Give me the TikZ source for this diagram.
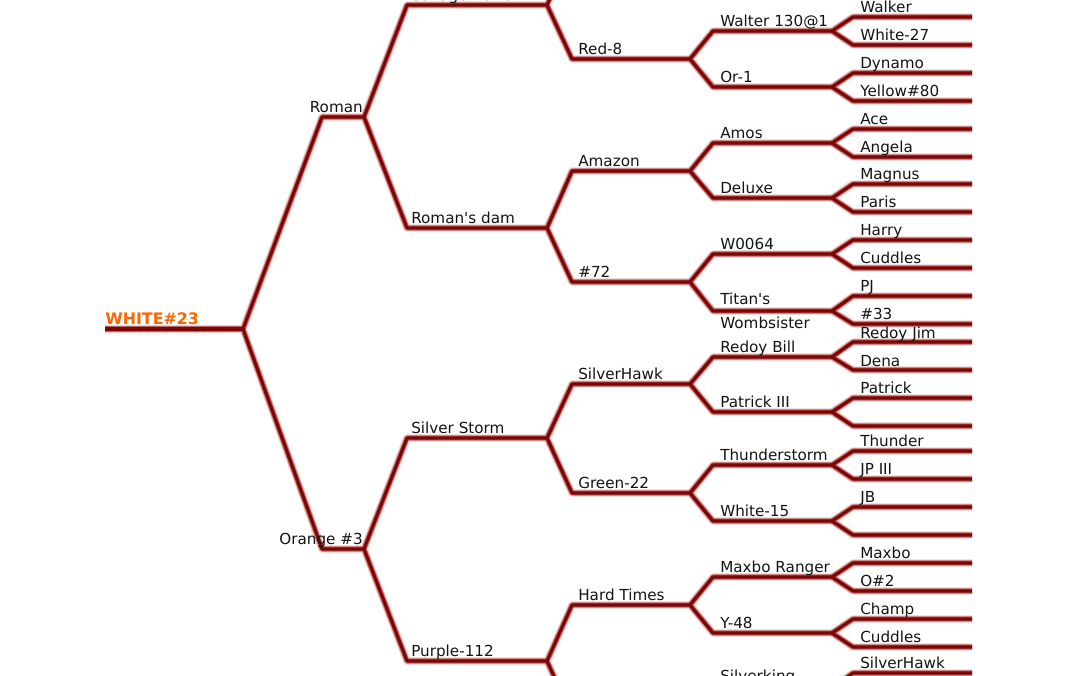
\documentclass[tikz,border=0pt]{standalone}
\usepackage{fontspec}
\setmainfont{DejaVu Sans}
\definecolor{core}{RGB}{122,6,6}
\definecolor{glowA}{RGB}{238,205,205}
\definecolor{glowB}{RGB}{190,100,100}
\definecolor{rootc}{RGB}{255,102,0}
\definecolor{txt}{RGB}{20,20,20}
\newcommand\alledges[1]{%
  \draw[#1] (W-s) -- (W-e);
  \foreach \p/\c in {W/Roman, W/Orange,
      Roman/Savage, Roman/RDam, Orange/SStorm, Orange/Purple,
      Savage/Xsav, Savage/Red8, RDam/Amazon, RDam/N72,
      SStorm/SHawk, SStorm/Green22, Purple/HardT, Purple/Xbot,
      Red8/Walter, Red8/Or1, Amazon/Amos, Amazon/Deluxe,
      N72/W0064, N72/Titan, SHawk/RBill, SHawk/PatIII,
      Green22/Thstorm, Green22/White15, HardT/MaxboR, HardT/Y48,
      Xbot/Silverking,
      Walter/Walker, Walter/White27, Or1/Dynamo, Or1/Yellow80,
      Amos/Ace, Amos/Angela, Deluxe/Magnus, Deluxe/Paris,
      W0064/Harry, W0064/Cuddles, Titan/PJ, Titan/N33,
      RBill/RJim, RBill/Dena, PatIII/Patrick, PatIII/PatD,
      Thstorm/Thunder, Thstorm/JPIII, White15/JB, White15/WfD,
      MaxboR/Maxbo, MaxboR/O2, Y48/Champ, Y48/CuddlesB,
      Silverking/SHawkB, Silverking/SkD}
    {\draw[#1] (\p-e) -- (\c-s) -- (\c-e);}%
}
\begin{document}
\begin{tikzpicture}[x=0.75pt,y=-0.75pt,
  glowa/.style={draw=glowA,line width=5.6pt,line join=round},
  glowb/.style={draw=glowB,line width=3.8pt,line join=round},
  corel/.style={draw=core,line width=2.3pt,line join=round},
  lbl/.style={font=\fontsize{11.4}{13}\selectfont,text=txt,inner sep=0pt,anchor=base west},
  lble/.style={lbl,anchor=base east},
  rootlbl/.style={font=\bfseries\fontsize{11.9}{13}\selectfont,text=rootc,inner sep=0pt,anchor=base west}]
\useasboundingbox (0,0) rectangle (1080,675);
\fill[white] (0,0) rectangle (1080,675);
\clip (0,0) rectangle (1080,675);
% generation 0
\coordinate (W-s) at (105,329); \coordinate (W-e) at (243,329);
% generation 1
\foreach \n/\y in {Roman/117, Orange/549}
  {\coordinate (\n-s) at (322,\y); \coordinate (\n-e) at (364,\y);}
% generation 2
\foreach \n/\y in {Savage/5, RDam/228, SStorm/438, Purple/661}
  {\coordinate (\n-s) at (407,\y); \coordinate (\n-e) at (547,\y);}
% generation 3
\foreach \n/\y in {Xsav/-50, Red8/59, Amazon/171, N72/282, SHawk/384, Green22/493, HardT/605, Xbot/716}
  {\coordinate (\n-s) at (572,\y); \coordinate (\n-e) at (690,\y);}
% generation 4
\foreach \n/\y in {Walter/31, Or1/87, Amos/143, Deluxe/198, W0064/254, Titan/311,
                   RBill/357, PatIII/412, Thstorm/465, White15/521, MaxboR/577, Y48/633, Silverking/688}
  {\coordinate (\n-s) at (713,\y); \coordinate (\n-e) at (832,\y);}
% generation 5
\foreach \n/\y in {Walker/17, White27/45, Dynamo/73, Yellow80/101, Ace/129, Angela/157,
                   Magnus/184, Paris/212, Harry/240, Cuddles/268, PJ/296, N33/324,
                   RJim/342, Dena/370, Patrick/398, PatD/426, Thunder/451, JPIII/479,
                   JB/507, WfD/535, Maxbo/563, O2/591, Champ/619, CuddlesB/647,
                   SHawkB/673, SkD/701}
  {\coordinate (\n-s) at (853,\y); \coordinate (\n-e) at (972,\y);}
% connectors: glow layers, then core
\alledges{glowa}
\alledges{glowb}
\alledges{corel}
% labels
\node[rootlbl] (lW) at (105,324) {WHITE\#23};
\node[lble] (lRoman) at (363,112) {Roman};
\node[lble] (lOrange) at (363,544) {Orange \#3};
\foreach \n/\y/\t in {Savage/0/{Savage Nation}, RDam/223/{Roman\textquotesingle s dam},
                      SStorm/433/{Silver Storm}, Purple/656/{Purple-112}}
  {\node[lbl] (l\n) at (411,\y) {\t};}
\foreach \n/\y/\t in {Red8/54/{Red-8}, Amazon/166/{Amazon}, N72/277/{\#72},
                      SHawk/379/{SilverHawk}, Green22/488/{Green-22}, HardT/600/{Hard Times}}
  {\node[lbl] (l\n) at (578,\y) {\t};}
\foreach \n/\y/\t in {Walter/26/{Walter 130@1}, Or1/82/{Or-1}, Amos/138/{Amos}, Deluxe/193/{Deluxe},
                      W0064/249/{W0064}, RBill/352/{Redoy Bill}, PatIII/407/{Patrick III},
                      Thstorm/460/{Thunderstorm}, White15/516/{White-15}, MaxboR/572/{Maxbo Ranger},
                      Y48/628/{Y-48}, Silverking/681/{Silverking}}
  {\node[lbl] (l\n) at (720,\y) {\t};}
\node[lbl] (lTitanA) at (720,304) {Titan\textquotesingle s};
\node[lbl] (lTitanB) at (720,328) {Wombsister};
\foreach \n/\y/\t in {Walker/12/{Walker}, White27/40/{White-27}, Dynamo/68/{Dynamo},
                      Yellow80/96/{Yellow\#80}, Ace/124/{Ace}, Angela/152/{Angela},
                      Magnus/179/{Magnus}, Paris/207/{Paris}, Harry/235/{Harry},
                      Cuddles/263/{Cuddles}, PJ/291/{PJ}, N33/319/{\#33},
                      RJim/338/{Redoy Jim}, Dena/366/{Dena}, Patrick/393/{Patrick},
                      Thunder/446/{Thunder}, JPIII/474/{JP III}, JB/502/{JB},
                      Maxbo/558/{Maxbo}, O2/586/{O\#2}, Champ/614/{Champ},
                      CuddlesB/642/{Cuddles}, SHawkB/668/{SilverHawk}}
  {\node[lbl] (l\n) at (860,\y) {\t};}
\end{tikzpicture}
\end{document}
